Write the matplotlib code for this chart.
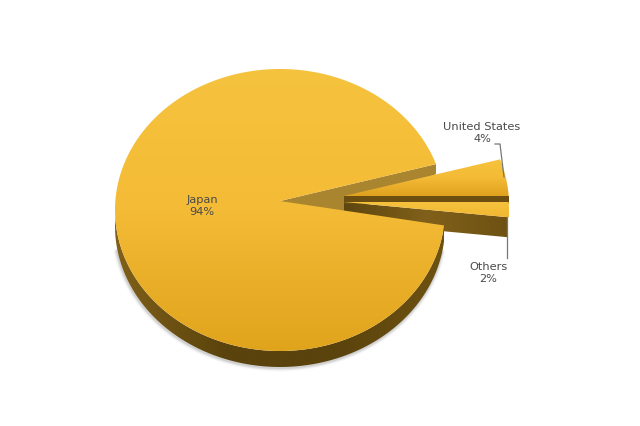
import numpy as np
import matplotlib
matplotlib.use('Agg')
import matplotlib.pyplot as plt
from matplotlib.colors import LinearSegmentedColormap
from matplotlib.patches import Polygon

# Chart data
labels = ['Japan', 'United States', 'Others']
shares = [94, 4, 2]

# Pie geometry, in pixels of the 640x426 picture
rx, ry = 165, 141
apex_drop = 9  # apex sits above the ellipse centre because of the perspective


def slice_outline(apex_x, apex_y, start, sweep, k):
    # Outer edge of a slice, from start (degrees) going through sweep degrees
    theta = np.radians(np.linspace(start, start + sweep, 800))
    dx, dy = np.cos(theta), k * np.sin(theta)
    y0 = apex_drop / ry
    a = dx ** 2 + dy ** 2
    b = 2 * y0 * dy
    t = (-b + np.sqrt(b ** 2 - 4 * a * (y0 ** 2 - 1))) / (2 * a)
    return apex_x + rx * t * dx, apex_y - ry * t * dy


def fill_gradient(ax, xy, colors, extent, vertical=True, zorder=1):
    # Gradient image clipped to a polygon
    cmap = LinearSegmentedColormap.from_list('g', colors)
    ramp = np.linspace(0, 1, 256)
    img = ramp.reshape(-1, 1) if vertical else ramp.reshape(1, -1)
    im = ax.imshow(img, cmap=cmap, extent=extent, aspect='auto', origin='upper',
                   interpolation='bilinear', zorder=zorder)
    patch = Polygon(xy, closed=True, transform=ax.transData, fc='none', ec='none')
    ax.add_patch(patch)
    im.set_clip_path(patch)
    ax.set_xlim(0, 640)
    ax.set_ylim(426, 0)


top_colors = ['#f6c33e', '#f4bb36', '#e0a31c']
side_colors = ['#80601a', '#5a430c', '#5a430c', '#6e5212']

fig = plt.figure(figsize=(6.4, 4.26), dpi=100)
ax = fig.add_axes([0, 0, 1, 1])
ax.set_xlim(0, 640)
ax.set_ylim(426, 0)
ax.axis('off')

sweeps = [s / sum(shares) * 360 for s in shares]
depth = 16

# Japan is the big slice, it runs the long way round
arc_x, arc_y = slice_outline(280, 201, 13.2, sweeps[0], 1.18)

# soft shadow under the pie
low = arc_y + depth > 250
for w, al in zip([5, 3.5, 2.5, 1.2], [0.04, 0.06, 0.09, 0.12]):
    ax.plot(arc_x[low] - 0.5, arc_y[low] + depth + 1, color='#555555', lw=w, alpha=al,
            solid_capstyle='round', zorder=1)

# cut wall of Japan seen through the gap
wall_x = [280, arc_x[0], arc_x[0], 344, 280]
wall_y = [201, arc_y[0], arc_y[0] + 10, 216, 216]
ax.add_patch(Polygon(np.column_stack([wall_x, wall_y]), fc='#a98530', ec='none', zorder=2))

# Others slice, its side first
ox, oy = slice_outline(344, 202, 0, -sweeps[2], 0.86)
o_side = np.column_stack([[344, ox[-1], ox[-1], 344], [202, oy[-1], oy[-1] + 20, 222]])
fill_gradient(ax, o_side, ['#5e4610', '#80601a', '#6e5212'], [344, 508, 240, 200], vertical=False, zorder=3)

# Japan side and top
under = arc_y > 205
side = np.column_stack([np.r_[arc_x[under], arc_x[under][::-1]],
                        np.r_[arc_y[under], arc_y[under][::-1] + depth]])
fill_gradient(ax, side, side_colors, [115, 445, 370, 200], vertical=False, zorder=4)
top = np.column_stack([np.r_[280, arc_x], np.r_[201, arc_y]])
fill_gradient(ax, top, top_colors, [115, 445, 352, 68], zorder=5)

# United States slice
ux, uy = slice_outline(344, 196, 0, sweeps[1], 1.07)
u_side = np.column_stack([[344, ux[0], ux[0], 344], [196, uy[0], uy[0] + 8, 204]])
ax.add_patch(Polygon(u_side, fc='#6b4e10', ec='none', zorder=6))
u_top = np.column_stack([np.r_[344, ux], np.r_[196, uy]])
fill_gradient(ax, u_top, ['#f6c33e', '#f4bb36', '#dfa01c'], [344, 510, 197, 158], zorder=7)

# Others top goes over the US side
o_top = np.column_stack([np.r_[344, ox], np.r_[202, oy]])
fill_gradient(ax, o_top, ['#f6c33e', '#f0b630'], [344, 510, 219, 201], zorder=8)

# Leader lines
ax.plot([495, 500, 504], [144, 144, 177], color='#777777', lw=0.9, zorder=9)
ax.plot([507, 507], [217, 258], color='#777777', lw=0.9, zorder=9)

# Labels
text_style = dict(ha='center', va='center', fontsize=8.2, color='#4a4a4a', family='DejaVu Sans',
                  linespacing=1.35, zorder=10)
ax.text(202, 206, f'{labels[0]}\n{shares[0]}%', **text_style)
ax.text(482, 133, f'{labels[1]}\n{shares[1]}%', **text_style)
ax.text(488, 273, f'{labels[2]}\n{shares[2]}%', **text_style)

fig.savefig('out.png', dpi=100)
